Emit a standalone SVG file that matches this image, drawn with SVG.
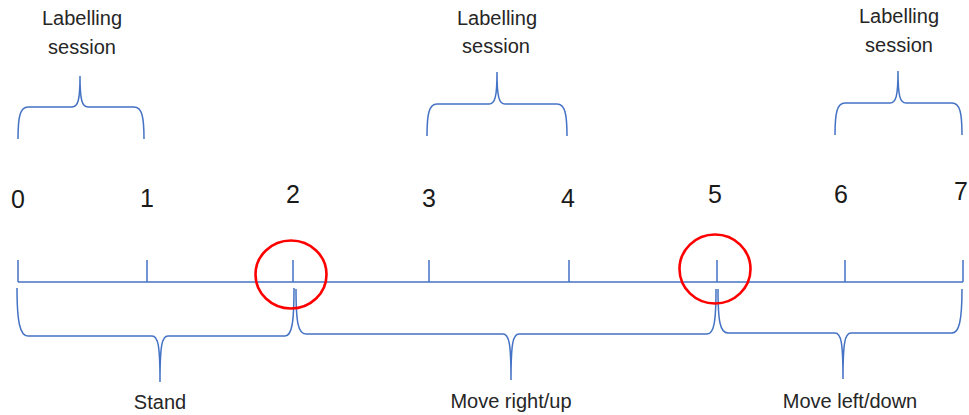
<svg xmlns="http://www.w3.org/2000/svg" width="969" height="415" viewBox="0 0 969 415">
  <style>
    .axis { stroke: #4472C4; stroke-width: 1.5; fill: none; }
    .brace { stroke: #4472C4; stroke-width: 1.5; fill: none; }
    .mark { stroke: #FF0000; stroke-width: 2.6; fill: none; }
    .num { font-family: "Liberation Sans", Arial, sans-serif; font-size: 25px; fill: #1a1a1a; text-anchor: middle; }
    .lbl { font-family: "Liberation Sans", Arial, sans-serif; font-size: 20px; fill: #262626; text-anchor: middle; }
  </style>
  <rect width="969" height="415" fill="#ffffff"/>

  <!-- timeline axis with ticks -->
  <g id="timeline">
    <path class="axis" d="M18,282 L963,282"/>
    <path class="axis" d="M18,260 V282 M147,260 V282 M293,260 V282 M429,260 V282 M569,260 V282 M717,260 V282 M845,260 V282 M963,260 V282"/>
  </g>

  <!-- tick numbers -->
  <g id="tick-labels">
    <text class="num" x="18" y="208">0</text>
    <text class="num" x="147" y="207">1</text>
    <text class="num" x="293" y="203">2</text>
    <text class="num" x="429" y="207">3</text>
    <text class="num" x="568" y="207">4</text>
    <text class="num" x="715" y="203">5</text>
    <text class="num" x="841" y="203">6</text>
    <text class="num" x="961" y="200">7</text>
  </g>

  <!-- labelling sessions above the axis -->
  <g id="session-1">
    <path class="brace" d="M18,139 C18,117 20,107 28,107 L72,107 C78,107 80,100 80,76 C80,100 82,107 88,107 L134,107 C142,107 144,117 144,139"/>
    <text class="lbl" x="82" y="25">Labelling</text>
    <text class="lbl" x="82" y="54">session</text>
  </g>
  <g id="session-2">
    <path class="brace" d="M427,136 C427,114 429,104 437,104 L489,104 C495,104 497,97 497,72 C497,97 499,104 505,104 L557,104 C565,104 567,114 567,136"/>
    <text class="lbl" x="497" y="25">Labelling</text>
    <text class="lbl" x="496" y="53">session</text>
  </g>
  <g id="session-3">
    <path class="brace" d="M835,135 C835,113 837,103 845,103 L890,103 C896,103 898,96 898,71 C898,96 900,103 906,103 L952,103 C960,103 962,113 962,135"/>
    <text class="lbl" x="899" y="23">Labelling</text>
    <text class="lbl" x="899" y="52">session</text>
  </g>

  <!-- movement phases below the axis -->
  <g id="phase-stand">
    <path class="brace" d="M17,288 C17,322 20,336 28,336 L152,336 C158,336 160,345 160,382 C160,345 162,336 168,336 L285,336 C292,336 294,322 294,288"/>
    <text class="lbl" x="160" y="409">Stand</text>
  </g>
  <g id="phase-right-up">
    <path class="brace" d="M296,289 C296,322 298,334 306,334 L503,334 C509,334 511,343 511,380 C511,343 513,334 519,334 L707,334 C714,334 716,322 716,289"/>
    <text class="lbl" x="511" y="408">Move right/up</text>
  </g>
  <g id="phase-left-down">
    <path class="brace" d="M718,289 C718,321 720,333 728,333 L835,333 C841,333 843,342 843,379 C843,342 845,333 851,333 L952,333 C959,333 962,321 962,289"/>
    <text class="lbl" x="850" y="408">Move left/down</text>
  </g>

  <!-- highlighted transition points -->
  <g id="transition-2">
    <ellipse class="mark" cx="291" cy="274.5" rx="35.5" ry="34"/>
  </g>
  <g id="transition-5">
    <ellipse class="mark" cx="715" cy="269" rx="35.5" ry="34.5"/>
  </g>
</svg>
